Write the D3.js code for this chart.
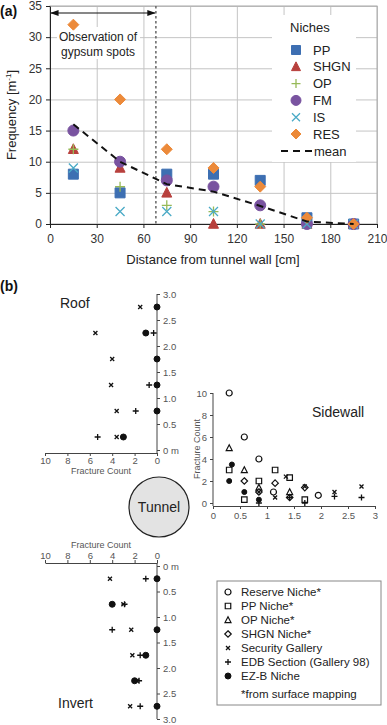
<!DOCTYPE html>
<html>
<head>
<meta charset="utf-8">
<script src="https://cdn.jsdelivr.net/npm/d3@7"></script>
<style>
  body { margin: 0; background: #fff; }
  svg { font-family: "Liberation Sans", Arial, sans-serif; }
  .grid line { stroke: #c4c4c4; }
  .ax path, .ax line { stroke: #222; }
  .ax text { fill: #333; }
  .sm text { font-size: 9px; fill: #555; }
  .sm path.domain, .sm .tick line { stroke: #444; }
</style>
</head>
<body>
<div id="chart-area"></div>
<script>
// ---------- panel (a) data ----------
var distances = [15, 45, 75, 105, 135, 165, 195];
var ppFreq = [8, 5, 8, 8, 7, 1, 0];
var shgnFreq = [12, 9, 5, 0, 0, 0, 0];
var opFreq = [12, 6, 3, 2, 0, 0, 0];
var fmFreq = [15, 10, 7, 6, 3, 0, 0];
var isFreq = [9, 2, 2, 2, 0, 0, 0];
var resFreq = [32, 20, 12, 9, 6, 1, 0];
var meanFreq = [16, 10, 6.4, 5.2, 2.9, 0.4, 0];
var nicheNames = ["PP", "SHGN", "OP", "FM", "IS", "RES"];
var xTicksA = [0, 30, 60, 90, 120, 150, 180, 210];
var yTicksA = [0, 5, 10, 15, 20, 25, 30, 35];
var gypsumLimit = 68;

// ---------- panel (b) data ----------
var depthLevels = [0.25, 0.75, 1.25, 1.75, 2.25, 2.75];
var roofSecurity = [3.6, 3.6, 4.1, 4.0, 5.5, 1.5];
var roofEdb = [5.3, 1.9, 0.7, null, 0.3, null];
var roofEzb = [3.0, 0, 0, 0, 1.0, 0];
var invertSecurity = [4.2, 3.0, 2.3, 2.2, 1.8, 2.4];
var invertEdb = [1.0, 2.9, 4.0, 1.5, 1.6, 1.5];
var invertEzb = [0, 4.0, 0, 1.0, 2.0, 0];

// sidewall: distance [m] and count per source
var sideReserveX = [0.3, 0.58, 0.85, 1.12, 1.95];
var sideReserveY = [10, 6, 4, 1, 0.7];
var sidePPX = [0.3, 0.58, 0.85, 1.15, 1.42, 1.7];
var sidePPY = [3, 0.3, 2, 3, 2.3, 0.3];
var sideOPX = [0.3, 0.58, 0.85, 1.42];
var sideOPY = [5, 3, 1.4, 1];
var sideSHGNX = [0.58, 0.85, 1.15, 1.42, 1.7];
var sideSHGNY = [2, 1, 1.8, 0.5, 1.4];
var sideSecurityX = [0.85, 1.15, 1.35, 1.7, 2.25, 2.75];
var sideSecurityY = [1, 0.5, 2.4, 1.5, 1, 1.5];
var sideEdbX = [0.85, 1.42, 1.7, 2.25, 2.75];
var sideEdbY = [0, 0.5, 0, 0.6, 0.5];
var sideEzbX = [0.35, 0.3, 0.58, 0.85];
var sideEzbY = [3.5, 2, 1, 0.3];

var countTicks = [0, 2, 4, 6, 8, 10];
var depthTicks = [0, 0.5, 1, 1.5, 2, 2.5, 3];
var sideYTicks = [0, 2, 4, 6, 8, 10];
var sideXTicks = [0, 0.5, 1, 1.5, 2, 2.5, 3];
var legendLabelsB = ["Reserve Niche*", "PP Niche*", "OP Niche*", "SHGN Niche*",
  "Security Gallery", "EDB Section (Gallery 98)", "EZ-B Niche"];

var svg = d3.select("#chart-area").append("svg")
  .attr("width", 387).attr("height", 725);

// marker shapes as path strings centred on 0,0
function shape(type, s) {
  var h = s / 2;
  if (type === "square") return "M" + -h + "," + -h + "h" + s + "v" + s + "h" + -s + "Z";
  if (type === "triangle") return "M0," + (-h * 1.1) + "L" + h + "," + h * 0.85 + "L" + -h + "," + h * 0.85 + "Z";
  if (type === "diamond") return "M0," + -h + "L" + h + ",0L0," + h + "L" + -h + ",0Z";
  if (type === "plus") return "M" + -h + ",0H" + h + "M0," + -h + "V" + h;
  if (type === "x") return "M" + -h + "," + -h + "L" + h + "," + h + "M" + h + "," + -h + "L" + -h + "," + h;
  if (type === "circle") return d3.arc()({ innerRadius: 0, outerRadius: h, startAngle: 0, endAngle: 2 * Math.PI });
}
var strokeShapes = { plus: 1, x: 1 };

// opts: size, color, sw, hollow
function drawMarks(g, xs, ys, xScale, yScale, type, o) {
  var pts = xs.map(function(d, i) { return { x: d, y: ys[i] }; })
    .filter(function(d) { return d.x !== null && d.y !== null; });
  g.selectAll(null).data(pts).enter().append("path")
    .attr("transform", function(d) { return "translate(" + xScale(d.x) + "," + yScale(d.y) + ")"; })
    .attr("d", shape(type, o.size))
    .attr("fill", strokeShapes[type] ? "none" : (o.hollow ? "#fff" : o.color))
    .attr("stroke", o.color)
    .attr("stroke-width", o.sw || 1);
}

// ================= panel (a) =================
var xA = d3.scaleLinear().domain([0, 210]).range([50, 377]);
var yA = d3.scaleLinear().domain([0, 35]).range([224, 6]);
var gA = svg.append("g");

gA.append("g").attr("class", "grid")
  .attr("transform", "translate(0,224)")
  .call(d3.axisBottom(xA).tickValues(xTicksA).tickSize(-218).tickFormat(""))
  .select(".domain").remove();
gA.append("g").attr("class", "grid")
  .attr("transform", "translate(50,0)")
  .call(d3.axisLeft(yA).tickValues(yTicksA).tickSize(-327).tickFormat(""))
  .select(".domain").remove();
gA.append("rect").attr("x", 50).attr("y", 6).attr("width", 327).attr("height", 218)
  .attr("fill", "none").attr("stroke", "#aaa");

// white boxes behind annotation and legend
gA.append("rect").attr("x", 57).attr("y", 27).attr("width", 83).attr("height", 32).attr("fill", "#fff");
gA.append("rect").attr("x", 272).attr("y", 15).attr("width", 84).attr("height", 147).attr("fill", "#fff");

gA.append("line")
  .attr("x1", xA(gypsumLimit)).attr("x2", xA(gypsumLimit))
  .attr("y1", 6).attr("y2", 224)
  .attr("stroke", "#666").attr("stroke-width", 1.5).attr("stroke-dasharray", "2.5,2.5");

var defs = svg.append("defs");
defs.append("marker").attr("id", "arr").attr("viewBox", "0 0 10 10")
  .attr("refX", 9).attr("refY", 5).attr("markerWidth", 7).attr("markerHeight", 7)
  .attr("orient", "auto-start-reverse")
  .append("path").attr("d", "M0,1.5L10,5L0,8.5Z").attr("fill", "#111");
gA.append("line")
  .attr("x1", xA(0) + 1).attr("x2", xA(gypsumLimit) - 1).attr("y1", 13).attr("y2", 13)
  .attr("stroke", "#111").attr("stroke-width", 1.2)
  .attr("marker-start", "url(#arr)").attr("marker-end", "url(#arr)");
gA.append("text").attr("x", 98).attr("y", 41).attr("text-anchor", "middle")
  .style("font-size", "12px").attr("fill", "#222").text("Observation of");
gA.append("text").attr("x", 98).attr("y", 56).attr("text-anchor", "middle")
  .style("font-size", "12px").attr("fill", "#222").text("gypsum spots");

var axB = gA.append("g").attr("class", "ax")
  .attr("transform", "translate(0,224)")
  .call(d3.axisBottom(xA).tickValues(xTicksA).tickSize(4).tickSizeOuter(0));
axB.selectAll("text").style("font-size", "12px").attr("dy", "1em");
var axL = gA.append("g").attr("class", "ax")
  .attr("transform", "translate(50,0)")
  .call(d3.axisLeft(yA).tickValues(yTicksA).tickSize(4).tickSizeOuter(0));
axL.selectAll("text").style("font-size", "12px").attr("x", -8);

gA.append("text").attr("x", 213).attr("y", 264).attr("text-anchor", "middle")
  .style("font-size", "13px").attr("fill", "#222").text("Distance from tunnel wall [cm]");
var yl = gA.append("text").attr("transform", "translate(16,115) rotate(-90)")
  .attr("text-anchor", "middle").style("font-size", "13px").attr("fill", "#222");
yl.append("tspan").text("Frequency [m");
yl.append("tspan").attr("dy", -5).style("font-size", "8px").text("-1");
yl.append("tspan").attr("dy", 5).text("]");

gA.append("text").attr("x", 0).attr("y", 16).style("font-size", "14px")
  .style("font-weight", "bold").attr("fill", "#111").text("(a)");

var nicheStyle = [
  { vals: ppFreq, type: "square", size: 10, color: "#3d6fb2" },
  { vals: shgnFreq, type: "triangle", size: 10, color: "#b8403d" },
  { vals: opFreq, type: "plus", size: 10, color: "#97ba58", sw: 1.3 },
  { vals: fmFreq, type: "circle", size: 11, color: "#7953a0" },
  { vals: isFreq, type: "x", size: 9, color: "#4aaac6", sw: 1.3 },
  { vals: resFreq, type: "diamond", size: 11, color: "#ec8a3a" }
];
nicheStyle.forEach(function(s) {
  drawMarks(gA, distances, s.vals, xA, yA, s.type, s);
});

gA.append("path")
  .datum(distances.map(function(d, i) { return [d, meanFreq[i]]; }))
  .attr("d", d3.line().x(function(d) { return xA(d[0]); }).y(function(d) { return yA(d[1]); }))
  .attr("fill", "none").attr("stroke", "#111").attr("stroke-width", 2)
  .attr("stroke-dasharray", "7,5");

// legend (a)
gA.append("text").attr("x", 290).attr("y", 32).style("font-size", "13px").attr("fill", "#222").text("Niches");
nicheStyle.forEach(function(s, i) {
  var ly = 50 + i * 16.8;
  drawMarks(gA, [296], [ly], function(v) { return v; }, function(v) { return v; }, s.type,
    { size: s.size - 1, color: s.color, sw: s.sw });
  gA.append("text").attr("x", 313).attr("y", ly + 4.5).style("font-size", "13px")
    .attr("fill", "#222").text(nicheNames[i]);
});
gA.append("line").attr("x1", 281).attr("x2", 312).attr("y1", 151).attr("y2", 151)
  .attr("stroke", "#111").attr("stroke-width", 2).attr("stroke-dasharray", "7,5");
gA.append("text").attr("x", 314).attr("y", 155.5).style("font-size", "13px").attr("fill", "#222").text("mean");

// ================= panel (b) =================
var gB = svg.append("g");
gB.append("text").attr("x", 0).attr("y", 291).style("font-size", "14px")
  .style("font-weight", "bold").attr("fill", "#111").text("(b)");

var xCount = d3.scaleLinear().domain([0, 10]).range([157, 45]);
var fmtDepth = function(d) { return d === 0 ? "0 m" : d.toFixed(1); };
var dark = "#111";
var crossOpt = { size: 4, color: dark, sw: 1.3 };
var plusOpt = { size: 6, color: dark, sw: 1.3 };
var dotOpt = { size: 6, color: dark };

// roof: depth up from the tunnel, count to the left
var yRoof = d3.scaleLinear().domain([0, 3]).range([450, 294]);
var gRoof = gB.append("g").attr("class", "sm");
var ayR = gRoof.append("g").attr("transform", "translate(" + xCount(0) + ",0)")
  .call(d3.axisRight(yRoof).tickValues(depthTicks).tickSize(3).tickSizeOuter(0).tickFormat(fmtDepth));
ayR.select(".domain").attr("d", "M0," + yRoof(3) + "V453");
gRoof.append("g").attr("transform", "translate(0,453)")
  .call(d3.axisBottom(xCount).tickValues(countTicks).tickSize(3).tickSizeOuter(0).tickPadding(1));
gRoof.selectAll("text").style("font-size", "9.5px");
gRoof.append("text").attr("x", 101).attr("y", 474).attr("text-anchor", "middle")
  .style("font-size", "9px").attr("fill", "#444").text("Fracture Count");
drawMarks(gRoof, roofSecurity, depthLevels, xCount, yRoof, "x", crossOpt);
drawMarks(gRoof, roofEdb, depthLevels, xCount, yRoof, "plus", plusOpt);
drawMarks(gRoof, roofEzb, depthLevels, xCount, yRoof, "circle", dotOpt);

// invert: depth down from the tunnel
var yInv = d3.scaleLinear().domain([0, 3]).range([566, 719]);
var gInv = gB.append("g").attr("class", "sm");
var ayI = gInv.append("g").attr("transform", "translate(" + xCount(0) + ",0)")
  .call(d3.axisRight(yInv).tickValues(depthTicks).tickSize(3).tickSizeOuter(0).tickFormat(fmtDepth));
ayI.select(".domain").attr("d", "M0,563V" + yInv(3));
gInv.append("g").attr("transform", "translate(0,563)")
  .call(d3.axisTop(xCount).tickValues(countTicks).tickSize(3).tickSizeOuter(0).tickPadding(1));
gInv.selectAll("text").style("font-size", "9.5px");
gInv.append("text").attr("x", 101).attr("y", 548).attr("text-anchor", "middle")
  .style("font-size", "9px").attr("fill", "#444").text("Fracture Count");
drawMarks(gInv, invertSecurity, depthLevels, xCount, yInv, "x", crossOpt);
drawMarks(gInv, invertEdb, depthLevels, xCount, yInv, "plus", plusOpt);
drawMarks(gInv, invertEzb, depthLevels, xCount, yInv, "circle", dotOpt);

gB.append("text").attr("x", 60).attr("y", 308).style("font-size", "14px").attr("fill", "#222").text("Roof");
gB.append("text").attr("x", 58).attr("y", 708).style("font-size", "14px").attr("fill", "#222").text("Invert");

// tunnel
gB.append("circle").attr("cx", 159).attr("cy", 507).attr("r", 30)
  .attr("fill", "#e3e3e3").attr("stroke", "#222").attr("stroke-width", 1.2);
gB.append("text").attr("x", 159).attr("y", 512).attr("text-anchor", "middle")
  .style("font-size", "14px").attr("fill", "#222").text("Tunnel");

// sidewall
var xSide = d3.scaleLinear().domain([0, 3]).range([213, 375]);
var ySide = d3.scaleLinear().domain([0, 10]).range([503, 393]);
var gSide = gB.append("g").attr("class", "sm");
var ayS = gSide.append("g").attr("transform", "translate(213,0)")
  .call(d3.axisLeft(ySide).tickValues(sideYTicks).tickSize(3).tickSizeOuter(0));
ayS.select(".domain").attr("d", "M0,393V506");
gSide.append("g").attr("transform", "translate(0,506)")
  .call(d3.axisBottom(xSide).tickValues(sideXTicks).tickSize(3).tickSizeOuter(0)
    .tickFormat(function(d) { return d; }));
gSide.selectAll("text").style("font-size", "9.5px");
gSide.append("text").attr("transform", "translate(200,449) rotate(-90)").attr("text-anchor", "middle")
  .style("font-size", "9px").attr("fill", "#444").text("Fracture Count");
var hollowOpt = function(sz) { return { size: sz, color: dark, sw: 1.2, hollow: true }; };
drawMarks(gSide, sideReserveX, sideReserveY, xSide, ySide, "circle", hollowOpt(6));
drawMarks(gSide, sidePPX, sidePPY, xSide, ySide, "square", hollowOpt(5.5));
drawMarks(gSide, sideOPX, sideOPY, xSide, ySide, "triangle", hollowOpt(6));
drawMarks(gSide, sideSHGNX, sideSHGNY, xSide, ySide, "diamond", hollowOpt(6.5));
drawMarks(gSide, sideSecurityX, sideSecurityY, xSide, ySide, "x", crossOpt);
drawMarks(gSide, sideEdbX, sideEdbY, xSide, ySide, "plus", plusOpt);
drawMarks(gSide, sideEzbX, sideEzbY, xSide, ySide, "circle", { size: 5, color: dark });
gB.append("text").attr("x", 312).attr("y", 417).style("font-size", "14px").attr("fill", "#222").text("Sidewall");

// legend (b)
var lgB = gB.append("g");
lgB.append("rect").attr("x", 217).attr("y", 581).attr("width", 164).attr("height", 124)
  .attr("fill", "#fff").attr("stroke", "#888");
var legTypes = ["circle", "square", "triangle", "diamond", "x", "plus", "circle"];
var legOpts = [hollowOpt(6), hollowOpt(5.5), hollowOpt(6), hollowOpt(6.5), crossOpt, plusOpt, { size: 6, color: dark }];
legendLabelsB.forEach(function(t, i) {
  var ly = 592 + i * 14;
  drawMarks(lgB, [228], [ly], function(v) { return v; }, function(v) { return v; }, legTypes[i], legOpts[i]);
  lgB.append("text").attr("x", 241).attr("y", ly + 4).style("font-size", "11.5px").attr("fill", "#222").text(t);
});
lgB.append("text").attr("x", 241).attr("y", 698).style("font-size", "11.5px").attr("fill", "#222").text("*from surface mapping");
</script>
</body>
</html>
